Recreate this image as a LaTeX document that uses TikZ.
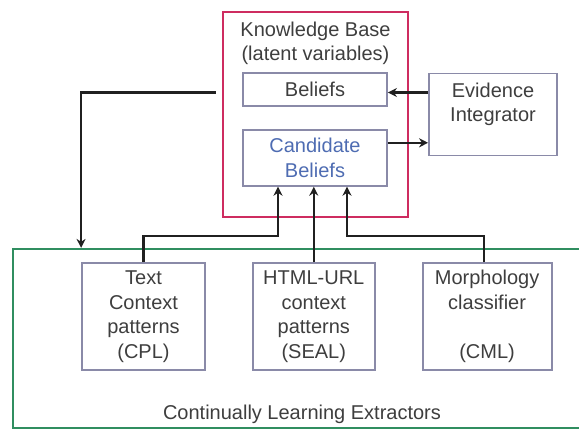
\documentclass[tikz,border=0pt]{standalone}
\usepackage{fontspec}
\setmainfont{Liberation Sans}
\usepackage{xcolor}
\usetikzlibrary{positioning,arrows.meta}

\definecolor{kbred}{RGB}{206,44,96}
\definecolor{extgreen}{RGB}{48,142,96}
\definecolor{boxgray}{RGB}{138,138,168}
\definecolor{txtgray}{RGB}{62,62,62}
\definecolor{candblue}{RGB}{78,108,178}
\definecolor{wire}{RGB}{32,32,32}

\begin{document}
\begin{tikzpicture}[
        node distance=11pt and 23pt,
        font=\fontsize{10}{12.25}\selectfont,
        box/.style={draw=boxgray, line width=0.9pt, rectangle,
                    align=center, text=txtgray, inner sep=0pt},
        frame/.style={rectangle, line width=1.1pt, inner sep=0pt},
        extractor/.style={box, minimum width=61.5pt, minimum height=53.5pt},
        arr/.style={-{Stealth[length=4.5pt,width=4.5pt]}, draw=wire, line width=1.1pt}
    ]
    \useasboundingbox (0,0) rectangle (289.5pt,-215pt);

    \node[frame, draw=extgreen, minimum width=289pt, minimum height=89.5pt] (ext) at (151pt,-169.25pt) {};
    \node[text=txtgray] (extlabel) at ([yshift=7.5pt]ext.south) {Continually Learning Extractors};

    \node[frame, draw=kbred, minimum width=92.5pt, minimum height=102.5pt] (kb) at (157.75pt,-57.25pt) {};
    \node[align=center, text=txtgray, anchor=north, inner sep=0pt] (kbtitle) at ([yshift=-5.2pt]kb.north) {Knowledge Base\\(latent variables)};

    \node[box, minimum width=72pt, minimum height=16.5pt] (beliefs) at (157.5pt,-44.75pt) {Beliefs};
    \node[box, text=candblue, below=11pt of beliefs, minimum width=72pt, minimum height=28pt] (cand) {Candidate\\Beliefs};

    \node[box, right=9.5pt of kb, minimum width=64pt, minimum height=41pt] (evid) {Evidence\\Integrator\\~};

    \node[extractor] (cpl) at (71.75pt,-158.25pt) {Text\\Context\\patterns\\(CPL)};
    \node[extractor, right=of cpl, minimum width=61pt] (seal) {HTML-URL\\context\\patterns\\(SEAL)};
    \node[extractor, right=of seal, minimum width=64.5pt] (cml) {Morphology\\classifier\\~\\(CML)};

    \coordinate[above=6pt of ext.north] (bus);
    \coordinate (inl) at ([xshift=-18.5pt]cand.south);
    \coordinate (inr) at ([xshift=16pt]cand.south);

    \draw[arr] ([yshift=-1.5pt]evid.west |- beliefs.east) -- ([yshift=-1.5pt]beliefs.east);
    \draw[arr] ([yshift=7.5pt]cand.east) -- ([yshift=7.5pt]cand.east -| evid.west);
    \draw[arr, shorten <=3pt] ([yshift=-1.5pt]kb.west |- beliefs.west) -| (cpl.west |- ext.north);
    \draw[arr] (cpl.north) |- (bus -| inl) -- (inl);
    \draw[arr] (seal.north) -- (seal.north |- cand.south);
    \draw[arr] ([xshift=-1.75pt]cml.north) |- (bus -| inr) -- (inr);
\end{tikzpicture}
\end{document}
